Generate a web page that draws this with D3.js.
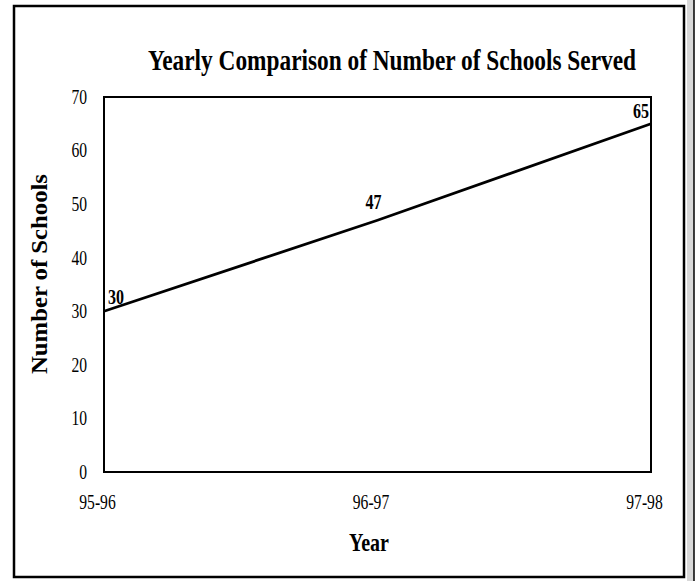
<!DOCTYPE html>
<html>
<head>
<meta charset="utf-8">
<script src="https://cdn.jsdelivr.net/npm/d3@7"></script>
<style>
  body { margin: 0; background: #fff; }
  svg text { font-family: "Liberation Serif", "Times New Roman", serif; fill: #000; }
</style>
</head>
<body>
<div id="main"></div>
<script>
var years = ["95-96", "96-97", "97-98"];
var schools = [30, 47, 65];
var yTicks = [0, 10, 20, 30, 40, 50, 60, 70];

var width = 700,
  height = 581;

var svg = d3.select("#main").append("svg")
  .attr("width", width)
  .attr("height", height);

// squeeze text to look like the narrow scanned typeface
function condense(sel, k) {
  sel.each(function () {
    var w = this.getComputedTextLength();
    d3.select(this).attr("textLength", w * k).attr("lengthAdjust", "spacingAndGlyphs");
  });
}

// page frame + scanned edge strip
svg.append("rect")
  .attr("x", 687).attr("y", 0).attr("width", 7).attr("height", height)
  .attr("fill", "#d8d8d8");
svg.append("line")
  .attr("x1", 694).attr("x2", 694).attr("y1", 0).attr("y2", height)
  .attr("stroke", "#000").attr("stroke-width", 1.5);
svg.append("rect")
  .attr("x", 14).attr("y", 6).attr("width", 670).attr("height", 571)
  .attr("fill", "none").attr("stroke", "#000").attr("stroke-width", 2.5);

var plotL = 104, plotR = 651, plotT = 97, plotB = 472;

var x = d3.scalePoint().domain(years).range([plotL, plotR]);
var y = d3.scaleLinear().domain([0, 70]).range([plotB, plotT]);

// title
svg.append("text")
  .attr("x", 392).attr("y", 70)
  .attr("text-anchor", "middle")
  .attr("font-size", 30).attr("font-weight", "bold")
  .attr("textLength", 488).attr("lengthAdjust", "spacingAndGlyphs")
  .text("Yearly Comparison of Number of Schools Served");

// plot box
svg.append("rect")
  .attr("x", plotL).attr("y", plotT)
  .attr("width", plotR - plotL).attr("height", plotB - plotT)
  .attr("fill", "none").attr("stroke", "#000").attr("stroke-width", 2);

// y axis (labels only)
var yAxis = svg.append("g")
  .attr("transform", "translate(" + (plotL - 17) + ",0)")
  .call(d3.axisLeft(y).tickValues(yTicks).tickSize(0).tickPadding(0));
yAxis.select(".domain").remove();
yAxis.selectAll("text")
  .attr("font-size", 20)
  .attr("font-family", "Liberation Serif")
  .call(condense, 0.78);

// x axis (labels only)
var xAxis = svg.append("g")
  .attr("transform", "translate(-7," + (plotB + 23) + ")")
  .call(d3.axisBottom(x).tickSize(0).tickPadding(0));
xAxis.select(".domain").remove();
xAxis.selectAll("text")
  .attr("font-size", 20)
  .attr("font-family", "Liberation Serif")
  .call(condense, 0.78);

// axis titles
svg.append("text")
  .attr("transform", "translate(47,274) rotate(-90)")
  .attr("text-anchor", "middle")
  .attr("font-size", 23).attr("font-weight", "bold")
  .attr("textLength", 200).attr("lengthAdjust", "spacingAndGlyphs")
  .text("Number of Schools");

svg.append("text")
  .attr("x", 369).attr("y", 551)
  .attr("text-anchor", "middle")
  .attr("font-size", 26).attr("font-weight", "bold")
  .attr("textLength", 40).attr("lengthAdjust", "spacingAndGlyphs")
  .text("Year");

// line
var line = d3.line()
  .x(function (d, i) { return x(years[i]); })
  .y(function (d) { return y(d); });

svg.append("path")
  .datum(schools)
  .attr("d", line)
  .attr("fill", "none")
  .attr("stroke", "#000")
  .attr("stroke-width", 2.8);

// value labels
var anchors = ["start", "middle", "end"];
var dxs = [4, -4, -2];
var dys = [-7, -11, -6];
svg.append("g").selectAll("text")
  .data(schools)
  .enter().append("text")
  .attr("x", function (d, i) { return x(years[i]) + dxs[i]; })
  .attr("y", function (d, i) { return y(d) + dys[i]; })
  .attr("text-anchor", function (d, i) { return anchors[i]; })
  .attr("font-size", 20).attr("font-weight", "bold")
  .text(function (d) { return d; })
  .call(condense, 0.8);
</script>
</body>
</html>
